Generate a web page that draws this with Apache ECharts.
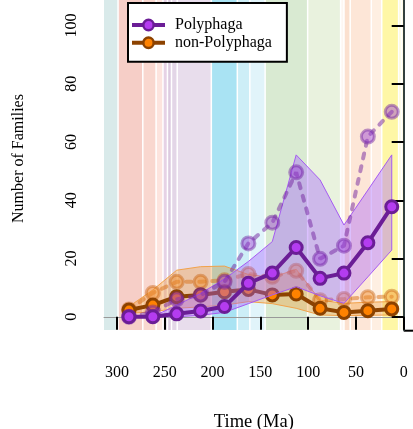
<!DOCTYPE html>
<html>
<head>
<meta charset="utf-8">
<script src="https://cdn.jsdelivr.net/npm/echarts@6/dist/echarts.min.js"></script>
<style>
  html, body { margin: 0; padding: 0; background: #fff; }
  #chart { width: 413px; height: 429px; }
</style>
</head>
<body>
<div id="chart"></div>
<script>
// Bin midpoints (Ma)
var ages = [287.5, 262.5, 237.5, 212.5, 187.5, 162.5, 137.5, 112.5, 87.5, 62.5, 37.5, 12.5];

// Estimated family counts with their uncertainty envelopes
var polyMean = [0, 0, 1, 2, 3.5, 11.5, 15, 23.8, 13.2, 15, 25.4, 37.8];
var polyLo   = [0, 0, 0, 0.5, 1.5, 4.5, 7.5, 10.3, 7.2, 4.6, 13.7, 22.9];
var polyHi   = [0, 0, 4, 8, 13, 19, 25.8, 55.6, 47, 31.5, 43.5, 55.6];

var nonMean = [2.3, 4, 6.9, 7.5, 8.6, 9.4, 7.5, 7.8, 2.9, 1.5, 2.1, 2.7];
var nonLo   = [1.2, 1.7, 2.9, 3.4, 4, 5.2, 4.5, 2.9, 0.6, 0.4, 0.5, 0.6];
var nonHi   = [3.5, 9.2, 16, 17.2, 17.4, 14.5, 13.5, 16.3, 5.7, 4.6, 5, 5.2];

// Observed family counts
var polyObs = [0, 1.5, 6, 7.5, 12, 25.2, 32.3, 49.6, 19.9, 24.4, 61.9, 70.4];
var nonObs  = [2.5, 8.2, 12, 12, 12.5, 14.7, 13.7, 15.8, 5.7, 6.1, 6.7, 6.9];

// Axis ticks
var xTicks = [0, 50, 100, 150, 200, 250, 300];
var yTicks = [0, 20, 40, 60, 80, 100];

// Geological time scale intervals (Ma)
var bandStart = [323.2, 298.9, 273.0, 259.1, 251.9, 247.2, 243.0, 237.0, 201.3, 174.1, 161.0, 145.0, 100.5, 66.0, 62.5, 56.0, 33.9, 23.0, 5.3, 2.6];
var bandEnd   = [298.9, 273.0, 259.1, 251.9, 247.2, 243.0, 237.0, 201.3, 174.1, 161.0, 145.0, 100.5, 66.0, 62.5, 56.0, 33.9, 23.0, 5.3, 2.6, 0];
var bandColors = ['#d9eaea', '#f6cec7', '#f9d7cf', '#fde4de', '#e6d2e5', '#dccbe0', '#e3d6e7', '#e8ddec',
                  '#a9e3f3', '#cdeef7', '#e1f4fa', '#d9ead2', '#e9f2de', '#fdf6f2', '#fbe0cf', '#fde6d7',
                  '#feefe2', '#fef7a6', '#fffbd2', '#fffbe6'];

var FONT = 'Liberation Serif';
var chart = echarts.init(document.getElementById('chart'), null, { renderer: 'canvas' });

function envelope(name, lo, hi, fill, stroke, z) {
  return {
    type: 'custom',
    name: name,
    z: z,
    silent: true,
    data: ages.map(function (a, i) { return [a, lo[i], hi[i]]; }),
    encode: { x: 0, y: [1, 2] },
    renderItem: function (params, api) {
      if (params.dataIndex !== 0) return;
      var pts = [];
      for (var i = 0; i < ages.length; i++) pts.push(api.coord([ages[i], hi[i]]));
      for (var j = ages.length - 1; j >= 0; j--) pts.push(api.coord([ages[j], lo[j]]));
      return { type: 'polygon', shape: { points: pts }, style: { fill: fill, stroke: stroke, lineWidth: 1 } };
    }
  };
}

function observed(name, vals, line, fill, border, z) {
  return {
    type: 'line', name: name, z: z, silent: true,
    data: ages.map(function (a, i) { return [a, vals[i]]; }),
    symbol: 'circle', symbolSize: 13,
    lineStyle: { color: line, width: 4, type: [5, 8], cap: 'round' },
    itemStyle: { color: fill, borderColor: border, borderWidth: 3 }
  };
}

function estimate(name, vals, line, fill, z) {
  return {
    type: 'line', name: name, z: z, silent: true,
    data: ages.map(function (a, i) { return [a, vals[i]]; }),
    symbol: 'circle', symbolSize: 12,
    lineStyle: { color: line, width: 4 },
    itemStyle: { color: fill, borderColor: line, borderWidth: 3 }
  };
}

var option = {
  animation: false,
  backgroundColor: '#fff',
  grid: { left: 104, right: 9.3, top: 0, bottom: 99, containLabel: false, outerBoundsMode: 'none' },
  legend: {
    data: ['Polyphaga', 'non-Polyphaga'],
    orient: 'vertical',
    left: 128, top: 3,
    padding: [14, 15, 11, 2],
    itemWidth: 33, itemHeight: 13, itemGap: 1.8,
    borderColor: '#000', borderWidth: 2, backgroundColor: '#fff',
    selectedMode: false,
    lineStyle: { width: 4 },
    itemStyle: { borderWidth: 2.5 },
    textStyle: { fontFamily: FONT, fontSize: 16, color: '#000', padding: [0, 0, 0, 5] }
  },
  xAxis: {
    type: 'value', inverse: true, min: 0, max: 313.6,
    name: 'Time (Ma)', nameLocation: 'middle', nameGap: 83,
    nameTextStyle: { fontFamily: FONT, fontSize: 18.5, color: '#000' },
    axisLine: { show: true, lineStyle: { color: '#999', width: 1 } },
    axisTick: { show: true, customValues: xTicks, length: 13, lineStyle: { color: '#000', width: 2 } },
    axisLabel: { customValues: xTicks, margin: 34.5, fontFamily: FONT, fontSize: 16, color: '#000' },
    splitLine: { show: false }
  },
  yAxis: {
    type: 'value', min: -4.55, max: 108.8,
    name: 'Number of Families', nameLocation: 'middle', nameGap: 77, nameRotate: 90,
    nameTextStyle: { fontFamily: FONT, fontSize: 16, color: '#000', padding: [0, 0, 0, 13] },
    axisLine: { show: true, lineStyle: { color: '#34413f', width: 2 } },
    axisTick: { show: true, customValues: yTicks, length: 12, lineStyle: { color: '#000', width: 2 } },
    axisLabel: { customValues: yTicks, rotate: 90, margin: 24, fontFamily: FONT, fontSize: 16, color: '#000' },
    splitLine: { show: false }
  },
  graphic: [
    // frame of the neighbouring panel, meeting the 0 Ma tick
    { type: 'line', silent: true, shape: { x1: 403.7, y1: 330.7, x2: 413, y2: 330.7 }, style: { stroke: '#000', lineWidth: 2 } }
  ],
  series: [
    {
      type: 'custom', name: 'periods', z: 0, silent: true, clip: true,
      data: bandStart.map(function (s, i) { return [s, bandEnd[i]]; }),
      encode: { x: [0, 1] },
      renderItem: function (params, api) {
        var cs = params.coordSys;
        var xa = api.coord([api.value(0), 0])[0];
        var xb = api.coord([api.value(1), 0])[0];
        var l = Math.min(xa, xb) + 0.75, r = Math.max(xa, xb) - 0.75;
        var rect = echarts.graphic.clipRectByRect(
          { x: l, y: cs.y, width: Math.max(0, r - l), height: cs.height },
          { x: cs.x, y: cs.y, width: cs.width, height: cs.height });
        if (!rect) return;
        return { type: 'rect', shape: rect, style: { fill: bandColors[params.dataIndex] } };
      }
    },
    envelope('non-Polyphaga range', nonLo, nonHi, 'rgba(242,150,40,0.35)', '#f2a24a', 1),
    observed('non-Polyphaga observed', nonObs, 'rgba(215,110,20,0.5)', 'rgba(240,140,40,0.45)', 'rgba(200,100,20,0.45)', 2),
    estimate('non-Polyphaga', nonMean, '#8c4200', '#ff8200', 3),
    envelope('Polyphaga range', polyLo, polyHi, 'rgba(160,90,255,0.38)', '#a55af2', 4),
    observed('Polyphaga observed', polyObs, 'rgba(115,35,160,0.5)', 'rgba(150,60,210,0.45)', 'rgba(110,30,160,0.45)', 5),
    estimate('Polyphaga', polyMean, '#6b1d96', '#b43cf0', 6)
  ]
};
chart.setOption(option);
</script>
</body>
</html>
